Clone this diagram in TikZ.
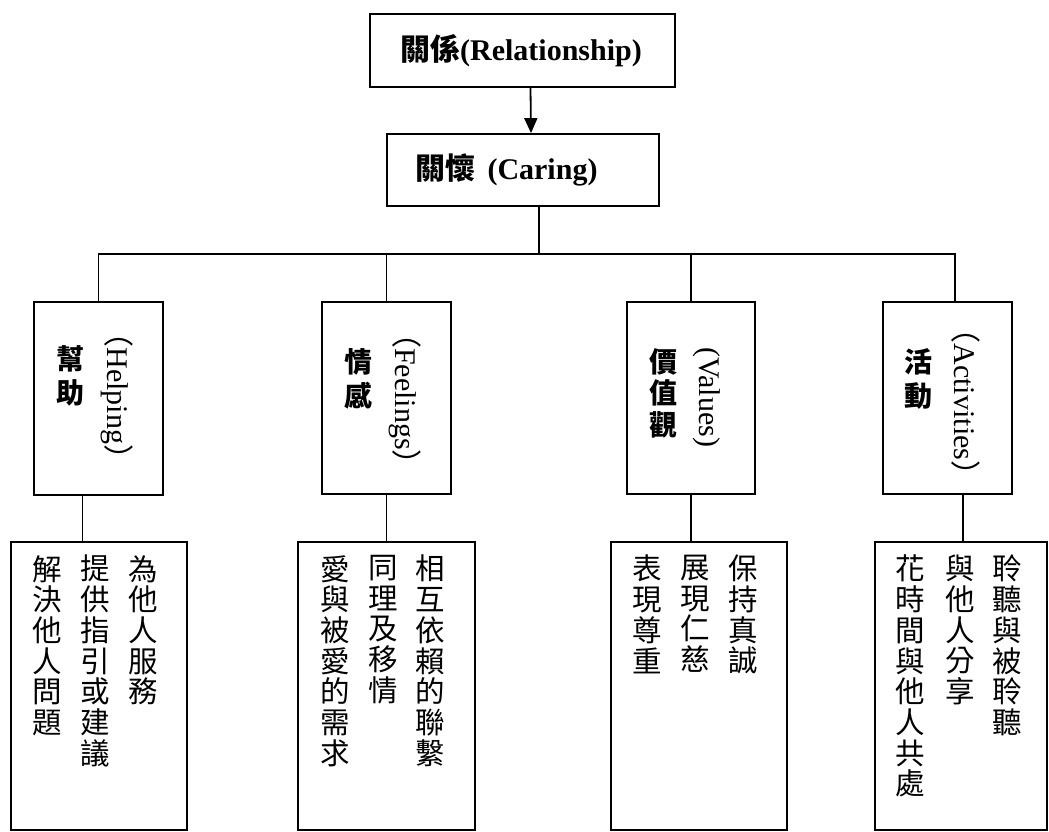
\documentclass[tikz,border=0pt]{standalone}
\usepackage{fontspec}
\setmainfont{Liberation Serif}
\newfontfamily\cjk{Noto Sans CJK TC}
\usetikzlibrary{arrows.meta}
\begin{document}
\begin{tikzpicture}[x=1pt,y=-1pt,
  box/.style={draw,line width=1.8pt,inner sep=0pt},
  wire/.style={line width=1.8pt},
  toptext/.style={inner sep=0pt,font=\fontsize{30}{36}\selectfont\bfseries},
  cjklabel/.style={inner sep=0pt,align=center,font=\fontsize{28}{34}\selectfont\cjk\bfseries},
  rotlabel/.style={inner sep=0pt,rotate=-90,font=\fontsize{30}{36}\selectfont},
  colt/.style={inner sep=0pt,anchor=north,align=center,font=\fontsize{29.5}{30.7}\selectfont\cjk}]
\useasboundingbox (0,0) rectangle (1049,832);
\fill[white] (0,0) rectangle (1049,832);
% top boxes
\node[box,minimum width=305pt,minimum height=73pt] (rel) at (522.5,50.5) {};
\node[toptext] (relt) at (521,50.5) {{\cjk 關係}(Relationship)};
\node[box,minimum width=272pt,minimum height=72pt] (car) at (523,170) {};
\node[toptext] (cart) at (506.5,170) {{\cjk 關懷}\hspace{0.4em}(Caring)};
\draw[wire,-{Triangle[length=15pt,width=13pt]}] ([xshift=8pt]rel.south) -- ([xshift=8pt]car.north);
% category boxes
\node[box,minimum width=129pt,minimum height=193pt] (help) at (98.5,398.5) {};
\node[box,minimum width=129pt,minimum height=192pt] (feel) at (386.5,398) {};
\node[box,minimum width=128pt,minimum height=192pt] (val) at (691,398) {};
\node[box,minimum width=129pt,minimum height=192pt] (act) at (947.5,398) {};
% tree
\coordinate (cs) at ([xshift=16pt]car.south);
\coordinate (j) at (539,254);
\coordinate (actdrop) at ([xshift=7.5pt]act.north);
\draw[wire] (cs) -- (j);
\draw[wire] (help.north) -- (help.north |- j) -- (actdrop |- j) -- (actdrop);
\draw[wire] (feel.north |- j) -- (feel.north);
\draw[wire] (val.north |- j) -- (val.north);
% text boxes
\node[box,minimum width=176pt,minimum height=288pt] (thelp) at (99,686) {};
\node[box,minimum width=177pt,minimum height=288pt] (tfeel) at (386.5,686) {};
\node[box,minimum width=176pt,minimum height=288pt] (tval) at (699,686) {};
\node[box,minimum width=172pt,minimum height=288pt] (tact) at (961,686) {};
\coordinate (hl) at ([xshift=-16pt]help.south);
\coordinate (vl) at (val.south);
\coordinate (al) at ([xshift=15.5pt]act.south);
\draw[wire] (hl) -- (hl |- thelp.north);
\draw[wire] (feel.south) -- (feel.south |- tfeel.north);
\draw[wire] (vl) -- (vl |- tval.north);
\draw[wire] (al) -- (al |- tact.north);
% labels in category boxes
\node[cjklabel] (helpc) at (70,375.5) {幫\\助};
\node[rotlabel] (helpe) at (117,396) {{\cjk （}Helping{\cjk ）}};
\node[cjklabel] (feelc) at (358,378.5) {情\\感};
\node[rotlabel] (feele) at (405,399) {{\cjk （}Feelings{\cjk ）}};
\node[cjklabel,font=\fontsize{28}{31.5}\selectfont\cjk\bfseries] (valc) at (663,393) {價\\值\\觀};
\node[rotlabel] (vale) at (707,397) {(Values)};
\node[cjklabel] (actc) at (918,378.5) {活\\動};
\node[rotlabel] (acte) at (966,402) {{\cjk （}Activities{\cjk ）}};
% column texts
\node[colt] (h1) at (143,555) {為\\他\\人\\服\\務};
\node[colt] (h2) at (95,555) {提\\供\\指\\引\\或\\建\\議};
\node[colt] (h3) at (47,555) {解\\決\\他\\人\\問\\題};
\node[colt] (f1) at (430,555) {相\\互\\依\\賴\\的\\聯\\繫};
\node[colt] (f2) at (383,555) {同\\理\\及\\移\\情};
\node[colt] (f3) at (335,555) {愛\\與\\被\\愛\\的\\需\\求};
\node[colt] (v1) at (743,555) {保\\持\\真\\誠};
\node[colt] (v2) at (695,555) {展\\現\\仁\\慈};
\node[colt] (v3) at (647,555) {表\\現\\尊\\重};
\node[colt] (a1) at (1007,555) {聆\\聽\\與\\被\\聆\\聽};
\node[colt] (a2) at (960,555) {與\\他\\人\\分\\享};
\node[colt] (a3) at (910,555) {花\\時\\間\\與\\他\\人\\共\\處};
\end{tikzpicture}
\end{document}
